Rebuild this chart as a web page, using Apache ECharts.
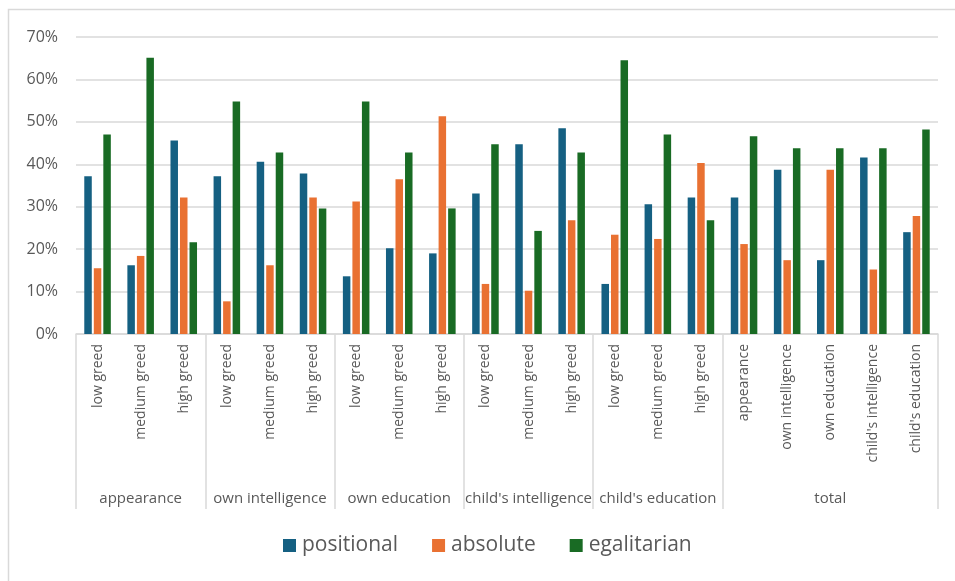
<!DOCTYPE html>
<html>
<head>
<meta charset="utf-8">
<script src="https://cdn.jsdelivr.net/npm/echarts@6/dist/echarts.min.js"></script>
<style>
html,body{margin:0;padding:0;background:#fff;}
#chart{width:955px;height:581px;}
</style>
</head>
<body>
<div id="chart"></div>
<script>
// Data
const categories = [
  'low greed','medium greed','high greed',
  'low greed','medium greed','high greed',
  'low greed','medium greed','high greed',
  'low greed','medium greed','high greed',
  'low greed','medium greed','high greed',
  'appearance','own intelligence','own education',"child's intelligence","child's education"
];
const groups = ['appearance','own intelligence','own education',"child's intelligence","child's education",'total'];
const groupSizes = [3,3,3,3,3,5];
const seriesNames = ['positional','absolute','egalitarian'];
const positional = [37.2,16.2,45.6, 37.2,40.6,37.8, 13.6,20.2,19.0, 33.1,44.7,48.5, 11.8,30.6,32.2, 32.2,38.7,17.4,41.6,24.0];
const absolute   = [15.5,18.4,32.2, 7.7,16.2,32.2, 31.2,36.5,51.3, 11.8,10.2,26.8, 23.4,22.4,40.3, 21.2,17.4,38.7,15.2,27.8];
const egalitarian= [47.0,65.1,21.6, 54.8,42.8,29.6, 54.8,42.8,29.6, 44.7,24.3,42.8, 64.5,47.0,26.8, 46.6,43.8,43.8,43.8,48.2];
const yTicks = [0,10,20,30,40,50,60,70];

// group boundaries / centers derived from sizes
const boundaries = [];
const groupCenterIdx = {};
let acc = 0;
groupSizes.forEach((s, i) => {
  boundaries.push(acc);
  groupCenterIdx[acc + Math.floor(s / 2)] = groups[i];
  acc += s;
});

const colors = ['#156082','#E97132','#196B24'];
const font = '"Open Sans", "Liberation Sans", sans-serif';
const grey = '#595959';

const chart = echarts.init(document.getElementById('chart'), null, {renderer: 'canvas'});
const dataSets = [positional, absolute, egalitarian];

chart.setOption({
  animation: false,
  backgroundColor: '#fff',
  color: colors,
  textStyle: {fontFamily: font},
  graphic: [{
    type: 'rect', left: 6, top: 7,
    shape: {width: 1000, height: 1000},
    style: {fill: 'none', stroke: '#d9d9d9', lineWidth: 1.5},
    silent: true, z: -1
  }],
  grid: {left: 76, right: 17, top: 37, bottom: 247, containLabel: false},
  legend: {
    data: seriesNames,
    left: 283, top: 535, padding: 0,
    icon: 'rect', itemWidth: 13, itemHeight: 13, itemGap: 34,
    textStyle: {fontSize: 21, color: grey, fontFamily: font, padding: [0, 0, 0, 1]}
  },
  xAxis: [{
    type: 'category',
    data: categories,
    position: 'bottom',
    axisLine: {show: true, lineStyle: {color: '#d9d9d9', width: 1.5}},
    axisTick: {
      show: true, length: 175, lineStyle: {color: '#d9d9d9', width: 1.5},
      interval: function (idx) { return boundaries.indexOf(idx) >= 0; }
    },
    axisLabel: {interval: 0, rotate: 90, fontSize: 14, color: grey, margin: 10, fontFamily: font}
  }, {
    type: 'category',
    data: categories,
    position: 'bottom',
    offset: 150,
    axisLine: {show: false},
    axisTick: {show: false},
    axisLabel: {
      interval: 0, fontSize: 15, color: grey, margin: 7, fontFamily: font,
      formatter: function (v, idx) { return groupCenterIdx[idx] || ''; },
      align: 'center'
    }
  }],
  yAxis: {
    type: 'value', min: 0, max: 70, interval: 10,
    axisLine: {show: false}, axisTick: {show: false},
    splitLine: {lineStyle: {color: '#d9d9d9', width: 1.5}},
    axisLabel: {formatter: '{value}%', fontSize: 16, color: grey, margin: 18, fontFamily: font}
  },
  series: seriesNames.map((n, i) => ({
    name: n, type: 'bar', xAxisIndex: 0,
    data: dataSets[i],
    barWidth: 7.5, barGap: '27%'
  }))
});
</script>
</body>
</html>
